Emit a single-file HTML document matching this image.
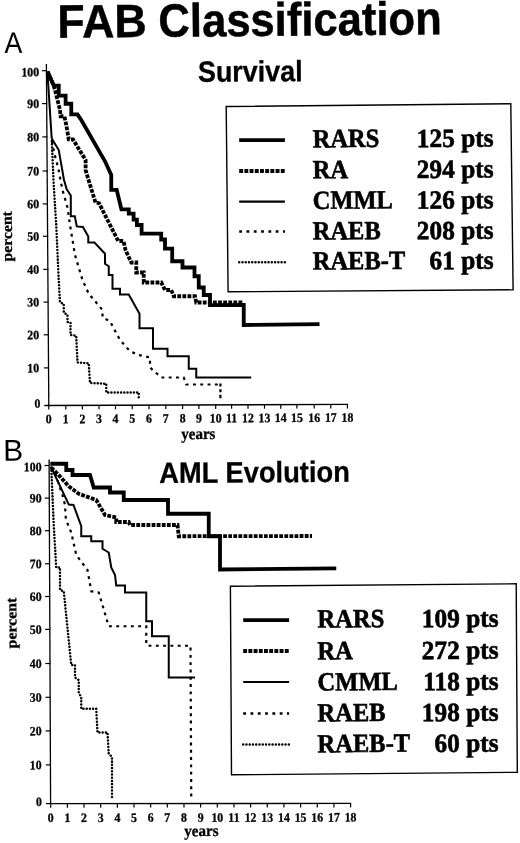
<!DOCTYPE html>
<html><head><meta charset="utf-8"><title>FAB Classification</title>
<style>
html,body{margin:0;padding:0;background:#fff;}
body{width:520px;height:843px;overflow:hidden;}
svg{display:block;will-change:transform;}
text{font-family:"Liberation Serif",serif;font-weight:bold;fill:#000;}
.tk{font-size:12.9px;stroke:#000;stroke-width:0.3px;}
.lg{font-size:26.2px;stroke:#000;stroke-width:0.6px;}
.ax{font-size:16.2px;stroke:#000;stroke-width:0.3px;}
.ttl{font-family:"Liberation Sans",sans-serif;font-size:46.8px;font-weight:bold;stroke:#000;stroke-width:0.5px;}
.sub{font-family:"Liberation Sans",sans-serif;font-size:29.3px;font-weight:bold;stroke:#000;stroke-width:0.3px;}
.pan{font-family:"Liberation Sans",sans-serif;font-size:29.7px;font-weight:normal;}
</style></head><body>
<svg width="520" height="843" viewBox="0 0 520 843">
<rect x="0" y="0" width="520" height="843" fill="#fff"/>
<g fill="none" stroke="#000" stroke-linecap="butt" stroke-linejoin="miter">
<polyline points="51.90,141.00 52.50,157.50 53.75,185.00 56.25,225.00 58.75,280.00 60.00,302.50 63.75,303.75 63.75,312.50 67.50,315.00 67.50,322.00 70.50,322.50 70.50,335.00 76.25,335.75 77.50,362.50 88.75,363.25 90.00,383.00 106.25,383.75 106.25,392.50 138.75,392.50 138.75,400.00" stroke-width="2.5" stroke-dasharray="0.01 3.2" stroke-linecap="round"/>
<polyline points="51.90,141.00 54.40,153.75 58.10,167.50 60.50,180.00 62.50,190.00 67.50,207.50 70.00,225.00 75.00,255.00 82.50,280.00 88.75,293.75 102.50,310.00 102.50,317.50 110.00,321.25 120.00,340.00 130.00,351.25 138.75,355.00 150.00,357.50 150.00,367.50 161.25,377.50 183.75,377.50 186.25,384.50 220.50,384.50" stroke-width="2.2" stroke-dasharray="2.9 4.4"/>
<polyline points="47.40,71.60 51.60,137.00 51.90,138.75 58.75,150.00 64.00,180.00 66.70,189.40 70.80,195.50 70.80,216.30 74.80,216.30 76.80,226.40 82.90,227.00 88.30,236.50 88.30,242.60 94.50,242.60 105.00,253.75 105.00,263.75 108.75,266.25 108.75,275.00 112.50,275.00 112.50,288.75 120.00,288.75 120.00,294.50 128.75,294.50 139.50,313.75 139.50,328.25 153.00,328.25 153.00,348.75 167.50,348.75 167.50,356.25 188.75,356.25 188.75,368.75 196.25,368.75 196.25,377.50 251.25,377.50" stroke-width="2.0"/>
<polyline points="47.50,71.50 53.75,85.60 55.00,90.00 60.00,110.00 60.60,116.25 64.40,116.25 66.25,125.00 68.75,139.40 73.00,139.40 85.60,160.00 85.60,170.00 88.50,180.00 95.50,202.50 99.00,203.20 118.20,241.00 123.50,241.00 125.50,250.00 131.25,262.50 136.25,262.50 136.25,272.50 143.75,272.50 143.75,282.50 161.25,282.50 165.00,290.00 171.25,290.00 173.75,296.25 195.00,296.25 196.25,302.50 242.50,302.50" stroke-width="3.8" stroke-dasharray="3.8 1.3"/>
<polyline points="47.50,71.50 53.75,85.60 58.75,85.60 58.75,95.60 65.60,95.60 65.60,103.75 71.25,103.75 71.25,114.40 77.50,114.40 81.25,120.00 105.00,161.25 111.25,175.00 111.25,189.80 116.70,189.80 121.40,209.30 128.80,209.30 128.80,213.60 133.60,213.60 133.60,219.60 136.90,219.60 136.90,225.00 141.60,225.00 141.60,233.70 161.20,233.70 161.20,239.50 165.00,239.50 165.00,248.60 172.20,248.60 172.20,261.25 182.50,261.25 182.50,267.50 194.50,267.50 194.50,276.25 198.75,276.25 198.75,287.50 203.75,287.50 203.75,295.00 210.00,295.00 210.00,305.20 243.75,305.00 243.75,325.00 319.50,324.20" stroke-width="3.8" stroke-linejoin="miter"/>
<polyline points="220.4,383.4 220.4,400.6" stroke-width="2.2" stroke-dasharray="3 2.9 3 2.4 3.5 9"/>
<polyline points="51.25,467.50 53.75,525.00 56.25,567.50 60.00,567.50 60.00,590.00 63.75,591.25 71.25,665.00 75.00,665.00 75.00,677.50 78.75,680.00 78.75,692.50 81.25,697.50 81.25,708.75 96.25,708.75 97.50,732.50 107.50,732.50 108.75,753.75 112.00,757.00 112.00,800.00" stroke-width="2.5" stroke-dasharray="0.01 3.2" stroke-linecap="round"/>
<polyline points="51.25,467.50 55.00,472.50 59.40,486.25 62.50,495.00 65.00,505.00 65.80,518.00 67.50,523.50 71.25,532.50 76.25,555.00 87.50,570.00 91.25,591.25 98.75,592.50 108.75,626.25 146.25,626.25 146.25,645.00 150.00,645.75 190.50,645.75 191.25,798.00" stroke-width="2.2" stroke-dasharray="2.9 4.4"/>
<polyline points="51.25,467.50 68.80,504.60 73.50,505.00 81.25,526.25 81.25,536.25 91.25,536.25 91.25,541.25 102.50,541.25 102.50,548.75 108.75,552.50 111.25,567.50 115.00,575.00 116.25,585.50 125.00,585.50 125.00,592.50 146.25,592.50 146.25,621.25 152.00,621.25 152.00,636.25 168.75,636.25 168.75,677.50 195.00,677.50" stroke-width="2.0"/>
<polyline points="51.25,467.50 57.50,473.75 68.75,486.25 78.75,493.75 96.25,500.00 105.00,515.00 116.25,517.50 116.25,522.00 128.75,522.00 130.00,525.00 177.50,525.00 178.75,536.25 312.00,536.00" stroke-width="3.8" stroke-dasharray="3.8 1.3"/>
<polyline points="50.30,463.75 66.25,463.75 66.25,470.00 72.50,470.00 72.50,475.00 90.00,475.00 93.75,487.50 110.00,487.50 110.00,492.50 123.75,492.50 123.75,500.00 168.00,500.00 168.00,513.75 208.75,513.75 208.75,536.25 220.00,536.25 220.00,569.50 336.25,568.40" stroke-width="3.8" stroke-linejoin="miter"/>
</g>
<g stroke="#000" fill="#000">
</g>
<g fill="#000" stroke="none">
<line stroke="#000" x1="46.4" y1="64" x2="48.8" y2="405.5" stroke-width="1.3"/>
<line stroke="#000" x1="44.3" y1="405.5" x2="348.0" y2="404.4" stroke-width="1.3"/>
<line stroke="#000" x1="41.85" y1="70.70" x2="46.95" y2="70.70" stroke-width="1.2"/>
<text transform="translate(39.20,76.30) rotate(-0.4) scale(0.92,1)" text-anchor="end" class="tk">100</text>
<line stroke="#000" x1="42.08" y1="103.60" x2="47.18" y2="103.60" stroke-width="1.2"/>
<text transform="translate(39.20,108.00) rotate(-0.4) scale(0.92,1)" text-anchor="end" class="tk">90</text>
<line stroke="#000" x1="42.31" y1="136.90" x2="47.41" y2="136.90" stroke-width="1.2"/>
<text transform="translate(39.20,141.30) rotate(-0.4) scale(0.92,1)" text-anchor="end" class="tk">80</text>
<line stroke="#000" x1="42.55" y1="171.00" x2="47.65" y2="171.00" stroke-width="1.2"/>
<text transform="translate(39.20,175.40) rotate(-0.4) scale(0.92,1)" text-anchor="end" class="tk">70</text>
<line stroke="#000" x1="42.78" y1="203.90" x2="47.88" y2="203.90" stroke-width="1.2"/>
<text transform="translate(39.20,208.30) rotate(-0.4) scale(0.92,1)" text-anchor="end" class="tk">60</text>
<line stroke="#000" x1="43.01" y1="236.30" x2="48.11" y2="236.30" stroke-width="1.2"/>
<text transform="translate(39.20,240.70) rotate(-0.4) scale(0.92,1)" text-anchor="end" class="tk">50</text>
<line stroke="#000" x1="43.24" y1="269.40" x2="48.34" y2="269.40" stroke-width="1.2"/>
<text transform="translate(39.20,273.80) rotate(-0.4) scale(0.92,1)" text-anchor="end" class="tk">40</text>
<line stroke="#000" x1="43.47" y1="302.10" x2="48.57" y2="302.10" stroke-width="1.2"/>
<text transform="translate(39.20,306.50) rotate(-0.4) scale(0.92,1)" text-anchor="end" class="tk">30</text>
<line stroke="#000" x1="43.70" y1="334.80" x2="48.80" y2="334.80" stroke-width="1.2"/>
<text transform="translate(39.20,339.20) rotate(-0.4) scale(0.92,1)" text-anchor="end" class="tk">20</text>
<line stroke="#000" x1="43.94" y1="367.90" x2="49.04" y2="367.90" stroke-width="1.2"/>
<text transform="translate(39.20,372.30) rotate(-0.4) scale(0.92,1)" text-anchor="end" class="tk">10</text>
<text transform="translate(40.50,407.80) rotate(-0.4) scale(0.92,1)" text-anchor="end" class="tk">0</text>
<line stroke="#000" x1="48.75" y1="405.20" x2="48.75" y2="409.50" stroke-width="1.2"/>
<text transform="translate(48.75,423.30) rotate(-0.4) scale(0.92,1)" text-anchor="middle" class="tk">0</text>
<line stroke="#000" x1="65.80" y1="405.14" x2="65.80" y2="409.44" stroke-width="1.2"/>
<text transform="translate(65.80,423.21) rotate(-0.4) scale(0.92,1)" text-anchor="middle" class="tk">1</text>
<line stroke="#000" x1="82.40" y1="405.08" x2="82.40" y2="409.38" stroke-width="1.2"/>
<text transform="translate(82.40,423.12) rotate(-0.4) scale(0.92,1)" text-anchor="middle" class="tk">2</text>
<line stroke="#000" x1="99.00" y1="405.02" x2="99.00" y2="409.32" stroke-width="1.2"/>
<text transform="translate(99.00,423.03) rotate(-0.4) scale(0.92,1)" text-anchor="middle" class="tk">3</text>
<line stroke="#000" x1="115.50" y1="404.95" x2="115.50" y2="409.25" stroke-width="1.2"/>
<text transform="translate(115.50,422.94) rotate(-0.4) scale(0.92,1)" text-anchor="middle" class="tk">4</text>
<line stroke="#000" x1="132.20" y1="404.89" x2="132.20" y2="409.19" stroke-width="1.2"/>
<text transform="translate(132.20,422.85) rotate(-0.4) scale(0.92,1)" text-anchor="middle" class="tk">5</text>
<line stroke="#000" x1="149.00" y1="404.83" x2="149.00" y2="409.13" stroke-width="1.2"/>
<text transform="translate(149.00,422.76) rotate(-0.4) scale(0.92,1)" text-anchor="middle" class="tk">6</text>
<line stroke="#000" x1="165.80" y1="404.77" x2="165.80" y2="409.07" stroke-width="1.2"/>
<text transform="translate(165.80,422.68) rotate(-0.4) scale(0.92,1)" text-anchor="middle" class="tk">7</text>
<line stroke="#000" x1="182.60" y1="404.71" x2="182.60" y2="409.01" stroke-width="1.2"/>
<text transform="translate(182.60,422.59) rotate(-0.4) scale(0.92,1)" text-anchor="middle" class="tk">8</text>
<line stroke="#000" x1="198.90" y1="404.65" x2="198.90" y2="408.95" stroke-width="1.2"/>
<text transform="translate(198.90,422.50) rotate(-0.4) scale(0.92,1)" text-anchor="middle" class="tk">9</text>
<line stroke="#000" x1="215.70" y1="404.59" x2="215.70" y2="408.89" stroke-width="1.2"/>
<text transform="translate(215.70,422.41) rotate(-0.4) scale(0.92,1)" text-anchor="middle" class="tk">10</text>
<line stroke="#000" x1="231.60" y1="404.53" x2="231.60" y2="408.83" stroke-width="1.2"/>
<text transform="translate(231.60,422.32) rotate(-0.4) scale(0.92,1)" text-anchor="middle" class="tk">11</text>
<line stroke="#000" x1="248.00" y1="404.47" x2="248.00" y2="408.77" stroke-width="1.2"/>
<text transform="translate(248.00,422.24) rotate(-0.4) scale(0.92,1)" text-anchor="middle" class="tk">12</text>
<line stroke="#000" x1="264.50" y1="404.41" x2="264.50" y2="408.71" stroke-width="1.2"/>
<text transform="translate(264.50,422.15) rotate(-0.4) scale(0.92,1)" text-anchor="middle" class="tk">13</text>
<line stroke="#000" x1="280.75" y1="404.35" x2="280.75" y2="408.65" stroke-width="1.2"/>
<text transform="translate(280.75,422.06) rotate(-0.4) scale(0.92,1)" text-anchor="middle" class="tk">14</text>
<line stroke="#000" x1="296.90" y1="404.29" x2="296.90" y2="408.59" stroke-width="1.2"/>
<text transform="translate(296.90,421.97) rotate(-0.4) scale(0.92,1)" text-anchor="middle" class="tk">15</text>
<line stroke="#000" x1="314.20" y1="404.22" x2="314.20" y2="408.52" stroke-width="1.2"/>
<text transform="translate(314.20,421.88) rotate(-0.4) scale(0.92,1)" text-anchor="middle" class="tk">16</text>
<line stroke="#000" x1="330.80" y1="404.16" x2="330.80" y2="408.46" stroke-width="1.2"/>
<text transform="translate(330.80,421.79) rotate(-0.4) scale(0.92,1)" text-anchor="middle" class="tk">17</text>
<line stroke="#000" x1="347.40" y1="404.10" x2="347.40" y2="408.40" stroke-width="1.2"/>
<text transform="translate(347.40,421.70) rotate(-0.4) scale(0.92,1)" text-anchor="middle" class="tk">18</text>
<line stroke="#000" x1="49.1" y1="459.6" x2="50.6" y2="803.7" stroke-width="1.3"/>
<line stroke="#000" x1="46.1" y1="803.7" x2="351.1" y2="803.4" stroke-width="1.3"/>
<line stroke="#000" x1="44.53" y1="465.50" x2="49.63" y2="465.50" stroke-width="1.2"/>
<text transform="translate(41.60,471.10) rotate(-0.4) scale(0.92,1)" text-anchor="end" class="tk">100</text>
<line stroke="#000" x1="44.67" y1="498.10" x2="49.77" y2="498.10" stroke-width="1.2"/>
<text transform="translate(41.60,502.50) rotate(-0.4) scale(0.92,1)" text-anchor="end" class="tk">90</text>
<line stroke="#000" x1="44.81" y1="530.70" x2="49.91" y2="530.70" stroke-width="1.2"/>
<text transform="translate(41.60,535.10) rotate(-0.4) scale(0.92,1)" text-anchor="end" class="tk">80</text>
<line stroke="#000" x1="44.95" y1="563.75" x2="50.05" y2="563.75" stroke-width="1.2"/>
<text transform="translate(41.60,568.15) rotate(-0.4) scale(0.92,1)" text-anchor="end" class="tk">70</text>
<line stroke="#000" x1="45.10" y1="596.50" x2="50.20" y2="596.50" stroke-width="1.2"/>
<text transform="translate(41.60,600.90) rotate(-0.4) scale(0.92,1)" text-anchor="end" class="tk">60</text>
<line stroke="#000" x1="45.24" y1="629.40" x2="50.34" y2="629.40" stroke-width="1.2"/>
<text transform="translate(41.60,633.80) rotate(-0.4) scale(0.92,1)" text-anchor="end" class="tk">50</text>
<line stroke="#000" x1="45.39" y1="663.50" x2="50.49" y2="663.50" stroke-width="1.2"/>
<text transform="translate(41.60,667.90) rotate(-0.4) scale(0.92,1)" text-anchor="end" class="tk">40</text>
<line stroke="#000" x1="45.54" y1="697.30" x2="50.64" y2="697.30" stroke-width="1.2"/>
<text transform="translate(41.60,701.70) rotate(-0.4) scale(0.92,1)" text-anchor="end" class="tk">30</text>
<line stroke="#000" x1="45.68" y1="730.90" x2="50.78" y2="730.90" stroke-width="1.2"/>
<text transform="translate(41.60,735.30) rotate(-0.4) scale(0.92,1)" text-anchor="end" class="tk">20</text>
<line stroke="#000" x1="45.83" y1="764.90" x2="50.93" y2="764.90" stroke-width="1.2"/>
<text transform="translate(41.60,769.30) rotate(-0.4) scale(0.92,1)" text-anchor="end" class="tk">10</text>
<text transform="translate(41.80,806.00) rotate(-0.4) scale(0.92,1)" text-anchor="end" class="tk">0</text>
<line stroke="#000" x1="50.70" y1="803.40" x2="50.70" y2="807.70" stroke-width="1.2"/>
<text transform="translate(50.70,822.00) rotate(-0.4) scale(0.92,1)" text-anchor="middle" class="tk">0</text>
<line stroke="#000" x1="67.36" y1="803.38" x2="67.36" y2="807.68" stroke-width="1.2"/>
<text transform="translate(67.36,821.98) rotate(-0.4) scale(0.92,1)" text-anchor="middle" class="tk">1</text>
<line stroke="#000" x1="84.02" y1="803.37" x2="84.02" y2="807.67" stroke-width="1.2"/>
<text transform="translate(84.02,821.95) rotate(-0.4) scale(0.92,1)" text-anchor="middle" class="tk">2</text>
<line stroke="#000" x1="100.68" y1="803.35" x2="100.68" y2="807.65" stroke-width="1.2"/>
<text transform="translate(100.68,821.93) rotate(-0.4) scale(0.92,1)" text-anchor="middle" class="tk">3</text>
<line stroke="#000" x1="117.34" y1="803.33" x2="117.34" y2="807.63" stroke-width="1.2"/>
<text transform="translate(117.34,821.90) rotate(-0.4) scale(0.92,1)" text-anchor="middle" class="tk">4</text>
<line stroke="#000" x1="134.00" y1="803.32" x2="134.00" y2="807.62" stroke-width="1.2"/>
<text transform="translate(134.00,821.88) rotate(-0.4) scale(0.92,1)" text-anchor="middle" class="tk">5</text>
<line stroke="#000" x1="150.66" y1="803.30" x2="150.66" y2="807.60" stroke-width="1.2"/>
<text transform="translate(150.66,821.85) rotate(-0.4) scale(0.92,1)" text-anchor="middle" class="tk">6</text>
<line stroke="#000" x1="167.32" y1="803.28" x2="167.32" y2="807.58" stroke-width="1.2"/>
<text transform="translate(167.32,821.83) rotate(-0.4) scale(0.92,1)" text-anchor="middle" class="tk">7</text>
<line stroke="#000" x1="183.98" y1="803.27" x2="183.98" y2="807.57" stroke-width="1.2"/>
<text transform="translate(183.98,821.81) rotate(-0.4) scale(0.92,1)" text-anchor="middle" class="tk">8</text>
<line stroke="#000" x1="200.64" y1="803.25" x2="200.64" y2="807.55" stroke-width="1.2"/>
<text transform="translate(200.64,821.78) rotate(-0.4) scale(0.92,1)" text-anchor="middle" class="tk">9</text>
<line stroke="#000" x1="217.30" y1="803.23" x2="217.30" y2="807.53" stroke-width="1.2"/>
<text transform="translate(217.30,821.76) rotate(-0.4) scale(0.92,1)" text-anchor="middle" class="tk">10</text>
<line stroke="#000" x1="233.96" y1="803.22" x2="233.96" y2="807.52" stroke-width="1.2"/>
<text transform="translate(233.96,821.73) rotate(-0.4) scale(0.92,1)" text-anchor="middle" class="tk">11</text>
<line stroke="#000" x1="250.62" y1="803.20" x2="250.62" y2="807.50" stroke-width="1.2"/>
<text transform="translate(250.62,821.71) rotate(-0.4) scale(0.92,1)" text-anchor="middle" class="tk">12</text>
<line stroke="#000" x1="267.28" y1="803.18" x2="267.28" y2="807.48" stroke-width="1.2"/>
<text transform="translate(267.28,821.69) rotate(-0.4) scale(0.92,1)" text-anchor="middle" class="tk">13</text>
<line stroke="#000" x1="283.94" y1="803.17" x2="283.94" y2="807.47" stroke-width="1.2"/>
<text transform="translate(283.94,821.66) rotate(-0.4) scale(0.92,1)" text-anchor="middle" class="tk">14</text>
<line stroke="#000" x1="300.60" y1="803.15" x2="300.60" y2="807.45" stroke-width="1.2"/>
<text transform="translate(300.60,821.64) rotate(-0.4) scale(0.92,1)" text-anchor="middle" class="tk">15</text>
<line stroke="#000" x1="317.26" y1="803.13" x2="317.26" y2="807.43" stroke-width="1.2"/>
<text transform="translate(317.26,821.61) rotate(-0.4) scale(0.92,1)" text-anchor="middle" class="tk">16</text>
<line stroke="#000" x1="333.92" y1="803.12" x2="333.92" y2="807.42" stroke-width="1.2"/>
<text transform="translate(333.92,821.59) rotate(-0.4) scale(0.92,1)" text-anchor="middle" class="tk">17</text>
<line stroke="#000" x1="350.58" y1="803.10" x2="350.58" y2="807.40" stroke-width="1.2"/>
<text transform="translate(350.58,821.56) rotate(-0.4) scale(0.92,1)" text-anchor="middle" class="tk">18</text>
</g>
<g stroke="#000" fill="none">
<polygon points="226.2,106.5 510.8,103.8 513.1,289.8 228.1,291.8" fill="#fff" stroke-width="1.4"/>
<line x1="239.2" y1="140.2" x2="284.9" y2="140.2" stroke-width="3.8"/>
<line x1="239.2" y1="171" x2="284.9" y2="171" stroke-width="4.0" stroke-dasharray="3.9 1.3"/>
<line x1="239.2" y1="201.7" x2="284.9" y2="201.7" stroke-width="2.2"/>
<line x1="239.2" y1="231.5" x2="284.9" y2="231.5" stroke-width="2.4" stroke-dasharray="2.8 4.5"/>
<line x1="239.2" y1="262.3" x2="284.9" y2="262.3" stroke-width="2.5" stroke-dasharray="0.01 3.25" stroke-linecap="round"/>
<text fill="#000" stroke="none" transform="translate(312.7,147.4) rotate(-0.5) scale(0.935,1)" class="lg">RARS</text>
<text fill="#000" stroke="none" transform="translate(493.6,146.5) rotate(-0.5) scale(0.968,1)" class="lg" text-anchor="end">125 pts</text>
<text fill="#000" stroke="none" transform="translate(312.7,178.3) rotate(-0.5) scale(0.935,1)" class="lg">RA</text>
<text fill="#000" stroke="none" transform="translate(493.6,177.4) rotate(-0.5) scale(0.968,1)" class="lg" text-anchor="end">294 pts</text>
<text fill="#000" stroke="none" transform="translate(312.7,209.0) rotate(-0.5) scale(0.935,1)" class="lg">CMML</text>
<text fill="#000" stroke="none" transform="translate(493.6,208.1) rotate(-0.5) scale(0.968,1)" class="lg" text-anchor="end">126 pts</text>
<text fill="#000" stroke="none" transform="translate(312.7,239.6) rotate(-0.5) scale(0.935,1)" class="lg">RAEB</text>
<text fill="#000" stroke="none" transform="translate(493.6,238.7) rotate(-0.5) scale(0.968,1)" class="lg" text-anchor="end">208 pts</text>
<text fill="#000" stroke="none" transform="translate(312.7,269.6) rotate(-0.5) scale(0.935,1)" class="lg">RAEB-T</text>
<text fill="#000" stroke="none" transform="translate(493.6,268.70000000000005) rotate(-0.5) scale(0.968,1)" class="lg" text-anchor="end">61 pts</text>
<polygon points="230.4,586.2 516.2,583.8 517.3,772.3 231.5,774.8" fill="#fff" stroke-width="1.4"/>
<line x1="243.2" y1="620.2" x2="289.1" y2="620.2" stroke-width="3.8"/>
<line x1="243.2" y1="651" x2="289.1" y2="651" stroke-width="4.0" stroke-dasharray="3.9 1.3"/>
<line x1="243.2" y1="682" x2="289.1" y2="682" stroke-width="2.2"/>
<line x1="243.2" y1="713.5" x2="289.1" y2="713.5" stroke-width="2.4" stroke-dasharray="2.8 4.5"/>
<line x1="243.2" y1="744.6" x2="289.1" y2="744.6" stroke-width="2.5" stroke-dasharray="0.01 3.25" stroke-linecap="round"/>
<text fill="#000" stroke="none" transform="translate(317.6,627.6) rotate(-0.5) scale(0.935,1)" class="lg">RARS</text>
<text fill="#000" stroke="none" transform="translate(498.6,626.7) rotate(-0.5) scale(0.968,1)" class="lg" text-anchor="end">109 pts</text>
<text fill="#000" stroke="none" transform="translate(317.6,659.4) rotate(-0.5) scale(0.935,1)" class="lg">RA</text>
<text fill="#000" stroke="none" transform="translate(498.6,658.5) rotate(-0.5) scale(0.968,1)" class="lg" text-anchor="end">272 pts</text>
<text fill="#000" stroke="none" transform="translate(317.6,690.6) rotate(-0.5) scale(0.935,1)" class="lg">CMML</text>
<text fill="#000" stroke="none" transform="translate(498.6,689.7) rotate(-0.5) scale(0.968,1)" class="lg" text-anchor="end">118 pts</text>
<text fill="#000" stroke="none" transform="translate(317.6,721.5) rotate(-0.5) scale(0.935,1)" class="lg">RAEB</text>
<text fill="#000" stroke="none" transform="translate(498.6,720.6) rotate(-0.5) scale(0.968,1)" class="lg" text-anchor="end">198 pts</text>
<text fill="#000" stroke="none" transform="translate(317.6,752.4) rotate(-0.5) scale(0.935,1)" class="lg">RAEB-T</text>
<text fill="#000" stroke="none" transform="translate(498.6,751.5) rotate(-0.5) scale(0.968,1)" class="lg" text-anchor="end">60 pts</text>
</g>

<text transform="translate(57.5,37.7) rotate(-0.5) scale(0.953,1)" class="ttl">FAB</text>
<text transform="translate(158.6,36.8) rotate(-0.5) scale(0.931,1)" class="ttl">Classification</text>
<text transform="translate(4.6,53.1) rotate(-0.4) scale(0.9,1)" class="pan">A</text>
<text transform="translate(3.2,460.8) rotate(-0.4)" class="pan" style="font-size:30px">B</text>
<text transform="translate(197.9,81.75) rotate(-0.35) scale(0.921,1)" class="sub">Survival</text>
<text transform="translate(159.3,482.9) rotate(-0.35) scale(0.932,1)" class="sub">AML Evolution</text>
<text transform="translate(181.2,439.2) rotate(-0.4) scale(0.93,1)" class="ax">years</text>
<text transform="translate(184.3,836.2) rotate(-0.4) scale(0.93,1)" class="ax">years</text>
<text transform="translate(12.1,261.4) rotate(-90.4) scale(1.06,1)" class="ax" style="font-size:14.8px">percent</text>
<text transform="translate(16.6,648.4) rotate(-90.4) scale(1.07,1)" class="ax" style="font-size:14.8px">percent</text>

</svg>
</body></html>
